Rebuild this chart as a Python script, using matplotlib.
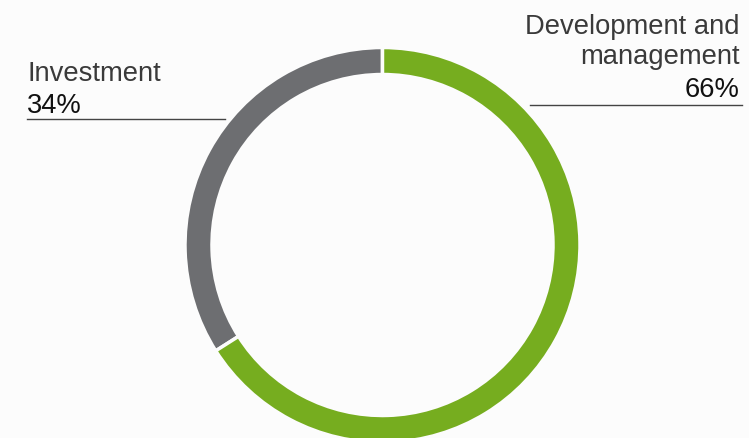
import matplotlib.pyplot as plt

# share of business segments
segments = ["Investment", "Development and\nmanagement"]
shares = [34, 66]
colors = ["#6d6e71", "#76ad1f"]

W, H = 749, 439
fig = plt.figure(figsize=(W / 100, H / 100), dpi=100, facecolor="#fcfcfc")
ax = fig.add_axes([0, 0, 1, 1])
ax.set_facecolor("#fcfcfc")

# donut ring, working in pixel units (y measured from bottom)
cx, cy = 382.5, H - 246
ax.pie(shares, colors=colors, startangle=90, counterclock=True,
       center=(cx, cy), radius=197.5,
       wedgeprops=dict(width=27, edgecolor="#fcfcfc", linewidth=2.5))

ax.set_xlim(0, W)
ax.set_ylim(0, H)
ax.set_aspect("equal")
ax.axis("off")

font = "Liberation Sans"
fs = 19.7

# left label
ax.text(27, H - 81, segments[0], fontsize=fs, family=font, color="#3a3a3a",
        ha="left", va="baseline")
ax.text(27, H - 113, f"{shares[0]}%", fontsize=fs, family=font, color="#111111",
        ha="left", va="baseline")
ax.plot([27, 225], [H - 120, H - 120], color="#444444", lw=1)

# right label
name_lines = segments[1].split("\n")
ax.text(740, H - 34, name_lines[0], fontsize=fs, family=font, color="#3a3a3a",
        ha="right", va="baseline")
ax.text(740, H - 64, name_lines[1], fontsize=fs, family=font, color="#3a3a3a",
        ha="right", va="baseline")
ax.text(740, H - 97, f"{shares[1]}%", fontsize=fs, family=font, color="#111111",
        ha="right", va="baseline")
ax.plot([530, 742], [H - 106, H - 106], color="#444444", lw=1)

fig.savefig("out.png", dpi=100, facecolor=fig.get_facecolor())
